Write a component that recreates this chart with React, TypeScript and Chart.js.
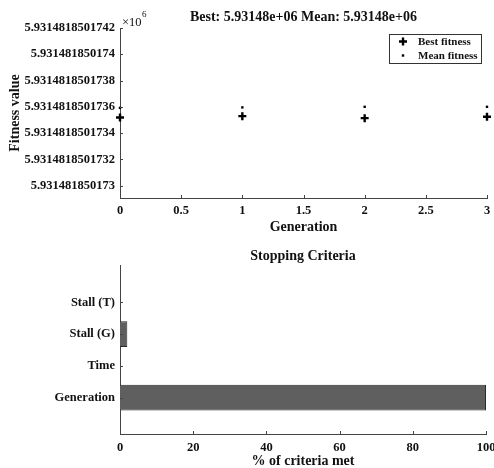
import React, { useEffect, useRef } from "react";
import { Chart, registerables } from "chart.js";
Chart.register(...registerables);

// ---------- data ----------
const generations = [0, 1, 2, 3];
const bestFitness = [5.931481850173519, 5.931481850173529, 5.931481850173514, 5.931481850173524];
const meanFitness = [5.931481850173592, 5.931481850173595, 5.9314818501736, 5.9314818501736];
const topTitle = "Best: 5.93148e+06 Mean: 5.93148e+06";
const yTickValues = [5.931481850173, 5.9314818501732, 5.9314818501734, 5.9314818501736, 5.9314818501738, 5.931481850174, 5.9314818501742];
const yTickLabels = ["5.931481850173", "5.9314818501732", "5.9314818501734", "5.9314818501736", "5.9314818501738", "5.931481850174", "5.9314818501742"];
const yMin = 5.931481850172905;
const yMax = 5.9314818501742;
const xTickValues = [0, 0.5, 1, 1.5, 2, 2.5, 3];
const xTickLabels = ["0", "0.5", "1", "1.5", "2", "2.5", "3"];

const criteria = ["Generation", "Time", "Stall (G)", "Stall (T)"];
const criteriaMet = [100, 0, 2, 0];
const pctTicks = [0, 20, 40, 60, 80, 100];
const botTitle = "Stopping Criteria";

// ---------- styles ----------
const FONT = "'Liberation Serif', 'Times New Roman', serif";
const TEXT = "#111";
const AXIS = "#444";

const innerTicks = {
  id: "innerTicks",
  afterDraw(chart: any) {
    const { ctx, chartArea, scales } = chart;
    ctx.save();
    ctx.strokeStyle = AXIS;
    ctx.lineWidth = 1;
    const xs = scales.x, ys = scales.y;
    xs.ticks.forEach((t: any) => {
      const px = Math.round(xs.getPixelForValue(t.value)) + 0.5;
      ctx.beginPath();
      ctx.moveTo(px, chartArea.bottom);
      ctx.lineTo(px, chartArea.bottom - 3);
      ctx.stroke();
    });
    ys.ticks.forEach((t: any) => {
      const py = Math.round(ys.getPixelForValue(t.value)) + 0.5;
      ctx.beginPath();
      ctx.moveTo(chartArea.left, py);
      ctx.lineTo(chartArea.left + 3, py);
      ctx.stroke();
    });
    ctx.restore();
  },
};

const topExtras = {
  id: "topExtras",
  afterDraw(chart: any) {
    const { ctx, chartArea } = chart;
    ctx.save();
    // exponent label
    ctx.fillStyle = TEXT;
    ctx.textBaseline = "middle";
    ctx.textAlign = "left";
    ctx.font = `12.5px ${FONT}`;
    const bx = chartArea.left + 2;
    ctx.fillText("\u00d710", bx, chartArea.top - 5);
    const w = ctx.measureText("\u00d710").width;
    ctx.font = `9px ${FONT}`;
    ctx.fillText("6", bx + w + 0.5, chartArea.top - 13);
    // legend
    const lw = 92, lh = 29;
    const lx = chartArea.right - 6 - lw;
    const ly = chartArea.top + 6;
    ctx.fillStyle = "#fff";
    ctx.fillRect(lx, ly, lw, lh);
    ctx.strokeStyle = "#333";
    ctx.lineWidth = 1;
    ctx.strokeRect(Math.round(lx) + 0.5, Math.round(ly) + 0.5, lw, lh);
    const ds = chart.data.datasets;
    const rows = [ly + 7.5, ly + 21.5];
    const mx = lx + 14;
    // plus marker
    ctx.strokeStyle = "#000";
    ctx.lineWidth = 2.4;
    ctx.beginPath();
    ctx.moveTo(mx - 4, rows[0]);
    ctx.lineTo(mx + 4, rows[0]);
    ctx.moveTo(mx, rows[0] - 4);
    ctx.lineTo(mx, rows[0] + 4);
    ctx.stroke();
    // dot marker
    ctx.fillStyle = "#000";
    ctx.fillRect(mx - 1.2, rows[1] - 1.2, 2.4, 2.4);
    ctx.font = `bold 11px ${FONT}`;
    ctx.fillStyle = TEXT;
    ctx.textBaseline = "middle";
    ctx.fillText(ds[0].label, lx + 29, rows[0] + 0.5);
    ctx.fillText(ds[1].label, lx + 29, rows[1] + 0.5);
    ctx.restore();
  },
};

export default function App() {
  const topRef = useRef<HTMLCanvasElement>(null);
  const botRef = useRef<HTMLCanvasElement>(null);

  useEffect(() => {
    const tickFont = { family: FONT, size: 12.5, weight: "bold" as const };
    const titleFont = { family: FONT, size: 14, weight: "bold" as const };

    const c1 = new Chart(topRef.current!, {
      type: "scatter",
      data: {
        datasets: [
          {
            label: "Best fitness",
            data: generations.map((g, i) => ({ x: g, y: bestFitness[i] })),
            pointStyle: "cross",
            pointRadius: 4,
            borderWidth: 2.4,
            borderColor: "#000",
            backgroundColor: "#000",
            clip: false as any,
          },
          {
            label: "Mean fitness",
            data: generations.map((g, i) => ({ x: g, y: meanFitness[i] })),
            pointStyle: "rect",
            pointRadius: 1.7,
            borderWidth: 0,
            borderColor: "#000",
            backgroundColor: "#000",
            clip: false as any,
          },
        ],
      },
      options: {
        animation: false,
        responsive: false,
        events: [],
        layout: { padding: { left: 0, right: 7, top: 0, bottom: 0 } },
        plugins: {
          legend: { display: false },
          tooltip: { enabled: false },
          title: {
            display: true,
            text: topTitle,
            fullSize: false,
            color: TEXT,
            font: titleFont,
            padding: { top: 8.6, bottom: 2.6 },
          },
        },
        scales: {
          x: {
            type: "linear",
            min: 0,
            max: 3,
            afterBuildTicks: (s: any) => {
              s.ticks = xTickValues.map((v) => ({ value: v }));
              s.min = 0;
              s.max = 3;
            },
            ticks: {
              font: tickFont,
              color: TEXT,
              padding: 5,
              maxRotation: 0,
              autoSkip: false,
              callback: (_v: any, i: number) => xTickLabels[i],
            },
            grid: { display: false, drawTicks: false },
            border: { display: true, color: AXIS, width: 1 },
            title: { display: true, text: "Generation", color: TEXT, font: titleFont, padding: { top: 0, bottom: 4.6 } },
            afterFit: (s: any) => {
              s.height = 42;
              s.paddingLeft = 0;
              s.paddingRight = 0;
            },
          },
          y: {
            type: "linear",
            min: yMin,
            max: yMax,
            afterBuildTicks: (s: any) => {
              s.ticks = yTickValues.map((v) => ({ value: v }));
              s.min = yMin;
              s.max = yMax;
            },
            ticks: {
              font: tickFont,
              color: TEXT,
              padding: 5,
              autoSkip: false,
              callback: (_v: any, i: number) => yTickLabels[i],
            },
            grid: { display: false, drawTicks: false },
            border: { display: true, color: AXIS, width: 1 },
            title: { display: true, text: "Fitness value", color: TEXT, font: titleFont, padding: { top: 6.6, bottom: 0 } },
            afterFit: (s: any) => {
              s.width = 120;
              s.paddingTop = 0;
              s.paddingBottom = 0;
            },
          },
        },
      },
      plugins: [innerTicks, topExtras],
    } as any);

    const yBotMin = -0.15;
    const yBotMax = 5.18;
    const c2 = new Chart(botRef.current!, {
      type: "bar",
      data: {
        datasets: [
          {
            label: "% of criteria met",
            data: criteria.map((_, i) => ({ x: criteriaMet[i], y: i + 1 })),
            backgroundColor: "#5f5f5f",
            borderColor: "#2a2a2a",
            borderWidth: 1,
            barPercentage: 0.81,
            categoryPercentage: 1,
          },
        ],
      },
      options: {
        animation: false,
        responsive: false,
        events: [],
        indexAxis: "y",
        layout: { padding: { left: 0, right: 8, top: 0, bottom: 0 } },
        plugins: {
          legend: { display: false },
          tooltip: { enabled: false },
          title: {
            display: true,
            text: botTitle,
            fullSize: false,
            color: TEXT,
            font: titleFont,
            padding: { top: 7.6, bottom: 0.6 },
          },
        },
        scales: {
          x: {
            type: "linear",
            min: 0,
            max: 100,
            afterBuildTicks: (s: any) => {
              s.ticks = pctTicks.map((v) => ({ value: v }));
              s.min = 0;
              s.max = 100;
            },
            ticks: { font: tickFont, color: TEXT, padding: 6, maxRotation: 0, autoSkip: false },
            grid: { display: false, drawTicks: false },
            border: { display: true, color: AXIS, width: 1 },
            title: {
              display: true,
              text: "% of criteria met",
              color: TEXT,
              font: { ...titleFont, lineHeight: 1.0 },
              padding: { top: 0, bottom: 0 },
            },
            afterFit: (s: any) => {
              s.height = 34;
              s.paddingLeft = 0;
              s.paddingRight = 0;
            },
          },
          y: {
            type: "linear",
            offset: false,
            min: yBotMin,
            max: yBotMax,
            afterBuildTicks: (s: any) => {
              s.ticks = criteria.map((_, i) => ({ value: i + 1 }));
              s.min = yBotMin;
              s.max = yBotMax;
            },
            ticks: {
              font: tickFont,
              color: TEXT,
              padding: 5,
              autoSkip: false,
              callback: (_v: any, i: number) => criteria[i],
            },
            grid: { display: false, drawTicks: false, offset: false },
            border: { display: true, color: AXIS, width: 1 },
            afterFit: (s: any) => {
              s.width = 120;
              s.paddingTop = 0;
              s.paddingBottom = 0;
            },
          },
        },
      },
      plugins: [innerTicks],
    } as any);

    return () => {
      c1.destroy();
      c2.destroy();
    };
  }, []);

  return (
    <div style={{ position: "fixed", left: 0, top: 0, width: 494, height: 468, overflow: "hidden", background: "#fff" }}>
      <canvas ref={topRef} width={494} height={240} style={{ position: "absolute", left: 0, top: 0 }} />
      <canvas ref={botRef} width={494} height={228} style={{ position: "absolute", left: 0, top: 240 }} />
    </div>
  );
}
